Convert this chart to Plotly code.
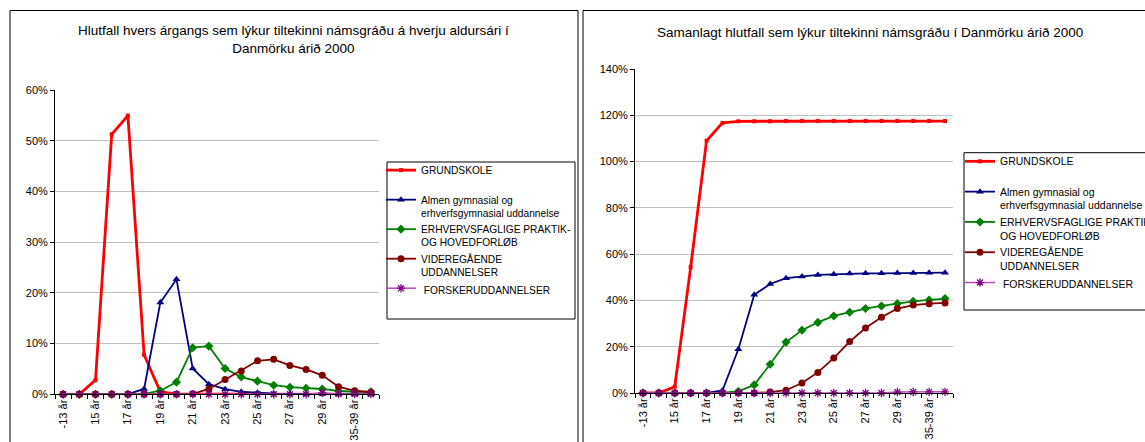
import plotly.graph_objects as go

W, H = 1145, 442

# ---- data ----
ages = ["-13 år", "14 år", "15 år", "16 år", "17 år", "18 år", "19 år", "20 år", "21 år", "22 år",
        "23 år", "24 år", "25 år", "26 år", "27 år", "28 år", "29 år", "30-34 år", "35-39 år", "40- år"]
tick_labels = ["-13 år", "", "15 år", "", "17 år", "", "19 år", "", "21 år", "",
               "23 år", "", "25 år", "", "27 år", "", "29 år", "", "35-39 år", ""]

series_names = ["GRUNDSKOLE",
                "Almen gymnasial og<br>erhverfsgymnasial uddannelse",
                "ERHVERVSFAGLIGE PRAKTIK-<br>OG HOVEDFORLØB",
                "VIDEREGÅENDE<br>UDDANNELSER",
                " FORSKERUDDANNELSER"]

# annual share (%) per age
grund_annual = [0, 0, 2.8, 51.3, 55.0, 7.8, 0.5, 0.1, 0.05, 0.05, 0.03, 0.02, 0.02, 0.01, 0.01, 0.01, 0.01, 0.01, 0.0, 0.0]
gym_annual = [0, 0, 0, 0, 0.05, 1.05, 18.1, 22.7, 5.1, 2.0, 1.0, 0.5, 0.3, 0.15, 0.1, 0.08, 0.05, 0.05, 0.03, 0.02]
erhv_annual = [0, 0, 0, 0, 0, 0.1, 0.7, 2.4, 9.2, 9.5, 5.1, 3.4, 2.6, 1.8, 1.4, 1.2, 1.05, 0.65, 0.5, 0.5]
vid_annual = [0, 0, 0, 0, 0, 0, 0, 0, 0.1, 1.05, 2.9, 4.6, 6.6, 6.9, 5.7, 4.9, 3.75, 1.5, 0.7, 0.4]
forsk_annual = [0, 0, 0, 0, 0, 0, 0, 0, 0, 0, 0, 0, 0, 0, 0, 0, 0.3, 0.05, 0.05, 0.05]

# cumulative share (%)
grund_cum = [0, 0, 2.7, 54.3, 109.0, 116.7, 117.4, 117.4, 117.4, 117.5, 117.5, 117.5, 117.5, 117.5, 117.5, 117.5, 117.5, 117.5, 117.5, 117.5]
gym_cum = [0, 0, 0, 0, 0.05, 1.1, 18.9, 42.4, 47.1, 49.6, 50.3, 51.0, 51.3, 51.6, 51.7, 51.7, 51.8, 51.9, 52.0, 52.0]
erhv_cum = [0, 0, 0, 0, 0, 0.1, 0.7, 3.5, 12.4, 22.0, 27.1, 30.5, 33.3, 34.9, 36.5, 37.6, 38.6, 39.6, 40.2, 40.8]
vid_cum = [0, 0, 0, 0, 0, 0, 0, 0, 0.4, 1.2, 4.3, 8.9, 15.1, 22.2, 28.1, 32.7, 36.5, 38.0, 38.6, 38.9]
forsk_cum = [0, 0, 0, 0, 0, 0, 0, 0, 0, 0, 0, 0, 0, 0, 0, 0, 0.4, 0.45, 0.5, 0.5]

left_title = "Hlutfall hvers árgangs sem lýkur tiltekinni námsgráðu á hverju aldursári í<br>Danmörku árið 2000"
right_title = "Samanlagt hlutfall sem lýkur tiltekinni námsgráðu í Danmörku árið 2000"

# ---- styles ----
styles = [
    dict(line=dict(color="#ff0000", width=2.8), marker=dict(symbol="square", size=4, color="#ff0000")),
    dict(line=dict(color="#000080", width=1.8), marker=dict(symbol="triangle-up", size=7, color="#000080")),
    dict(line=dict(color="#008000", width=1.8), marker=dict(symbol="diamond", size=7, color="#008000")),
    dict(line=dict(color="#800000", width=1.8), marker=dict(symbol="circle", size=7, color="#800000")),
    dict(line=dict(color="#b94db9", width=1.5), marker=dict(symbol="asterisk-open", size=7, color="#800080",
                                                          line=dict(color="#800080", width=1.3))),
]

FONT = "Liberation Sans, Arial, sans-serif"

fig = go.Figure()
left_data = [grund_annual, gym_annual, erhv_annual, vid_annual, forsk_annual]
right_data = [grund_cum, gym_cum, erhv_cum, vid_cum, forsk_cum]

for name, vals, st in zip(series_names, left_data, styles):
    nm = name + "<br> " if "<br>" not in name and "FORSK" not in name else name
    fig.add_trace(go.Scatter(x=ages, y=vals, name=nm, mode="lines+markers",
                             line=st["line"], marker=st["marker"], xaxis="x", yaxis="y",
                             legend="legend", cliponaxis=False))
for name, vals, st in zip(series_names, right_data, styles):
    nm = name + "<br> " if "<br>" not in name and "FORSK" not in name else name
    fig.add_trace(go.Scatter(x=ages, y=vals, name=nm, mode="lines+markers",
                             line=st["line"], marker=st["marker"], xaxis="x2", yaxis="y2",
                             legend="legend2", cliponaxis=False))

def px(xp):
    return xp / W

def py(yp):
    return 1 - yp / H

xaxis_common = dict(
    type="category", categoryorder="array", categoryarray=ages,
    range=[-0.5, len(ages) - 0.5],
    tickmode="array", tickvals=ages, ticktext=tick_labels,
    tickson="boundaries", ticks="outside", ticklen=4, tickcolor="black",
    tickangle=-90, tickfont=dict(family=FONT, size=11, color="black"),
    showline=True, linecolor="black", linewidth=1, showgrid=False,
    zeroline=False, automargin=False, fixedrange=True,
)
yaxis_common = dict(
    ticks="outside", ticklen=4, tickcolor="black", ticksuffix="%",
    tickfont=dict(family=FONT, size=11, color="black"),
    showline=True, linecolor="black", linewidth=1,
    showgrid=True, gridcolor="#c0c0c0", gridwidth=1,
    zeroline=False, automargin=False, fixedrange=True,
)

legend_common = dict(xanchor="left", yanchor="top", xref="paper", yref="paper",
                     bgcolor="rgba(0,0,0,0)", borderwidth=0, valign="top",
                     itemwidth=30, tracegroupgap=0, itemclick=False, itemdoubleclick=False)

fig.update_layout(
    width=W, height=H,
    margin=dict(l=0, r=0, t=0, b=0, autoexpand=False),
    paper_bgcolor="white", plot_bgcolor="white",
    font=dict(family=FONT, size=11, color="black"),
    xaxis=dict(domain=[px(55), px(379)], anchor="y", **xaxis_common),
    yaxis=dict(domain=[py(394.3), py(90.3)], anchor="x", range=[0, 60], dtick=10, **yaxis_common),
    xaxis2=dict(domain=[px(635), px(953)], anchor="y2", **xaxis_common),
    yaxis2=dict(domain=[py(393), py(69)], anchor="x2", range=[0, 140], dtick=20, **yaxis_common),
    legend=dict(x=px(381), y=py(157), font=dict(family=FONT, size=10.2, color="black"), **legend_common),
    legend2=dict(x=px(960), y=py(148), font=dict(family=FONT, size=10.5, color="black"), **legend_common),
    showlegend=True,
    shapes=[
        # panel frames
        dict(type="rect", xref="paper", yref="paper", x0=px(10), x1=px(578), y0=-0.2, y1=py(10.5),
             line=dict(color="black", width=1), layer="below"),
        dict(type="rect", xref="paper", yref="paper", x0=px(583), x1=1.2, y0=-0.2, y1=py(10.5),
             line=dict(color="black", width=1), layer="below"),
        # legend frames
        dict(type="rect", xref="paper", yref="paper", x0=px(387), x1=px(575), y0=py(319), y1=py(162),
             line=dict(color="black", width=1), fillcolor="white", layer="below"),
        dict(type="rect", xref="paper", yref="paper", x0=px(964), x1=1.2, y0=py(310), y1=py(152.7),
             line=dict(color="black", width=1), fillcolor="white", layer="below"),
    ],
    annotations=[
        dict(text=left_title, x=px(293.7), y=py(39.5), xref="paper", yref="paper",
             xanchor="center", yanchor="middle", showarrow=False,
             font=dict(family=FONT, size=13.5, color="black")),
        dict(text=right_title, x=px(870), y=py(32.3), xref="paper", yref="paper",
             xanchor="center", yanchor="middle", showarrow=False,
             font=dict(family=FONT, size=13.5, color="black")),
    ],
)

fig.write_html("out.html", config={"displayModeBar": False},
               post_script="document.body.style.margin='0';document.body.style.overflow='hidden';")
